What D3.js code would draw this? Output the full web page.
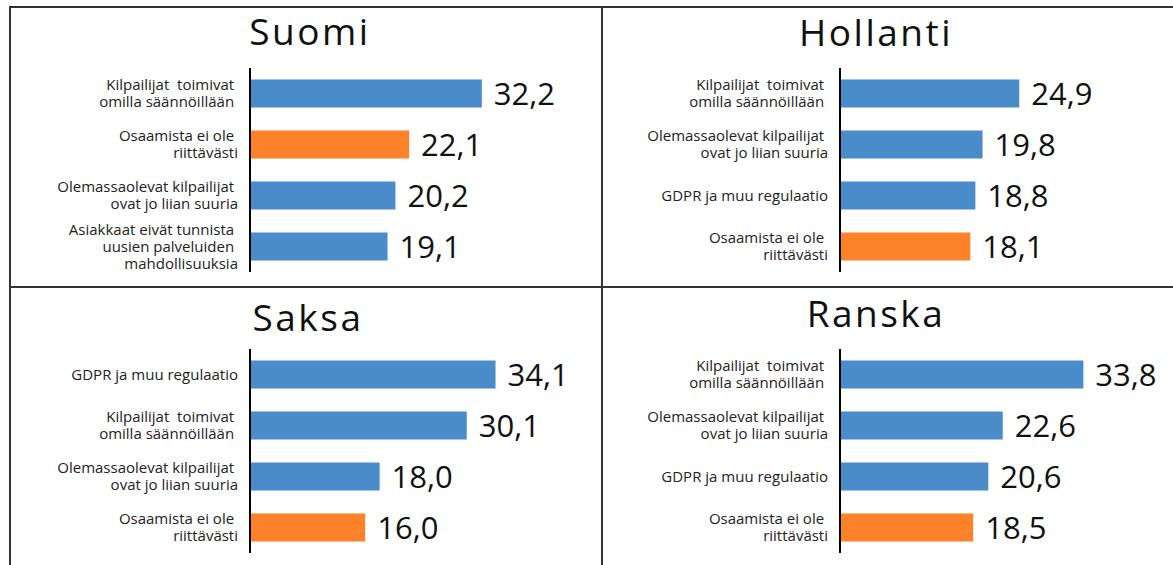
<!DOCTYPE html>
<html>
<head>
<meta charset="utf-8">
<script src="https://cdn.jsdelivr.net/npm/d3@7"></script>
<style>
  body { margin: 0; background: #fff; }
  svg text { white-space: pre; }
</style>
</head>
<body>
<div id="chart"></div>
<script>
// Data (values in %), one set of arrays per country
var suomiCategories = [
  "Kilpailijat  toimivat \nomilla säännöillään ",
  "Osaamista ei ole \nriittävästi",
  "Olemassaolevat kilpailijat \novat jo liian suuria",
  "Asiakkaat eivät tunnista \nuusien palveluiden \nmahdollisuuksia"
];
var suomiValues = [32.2, 22.1, 20.2, 19.1];

var hollantiCategories = [
  "Kilpailijat  toimivat \nomilla säännöillään ",
  "Olemassaolevat kilpailijat \novat jo liian suuria",
  "GDPR ja muu regulaatio",
  "Osaamista ei ole \nriittävästi"
];
var hollantiValues = [24.9, 19.8, 18.8, 18.1];

var saksaCategories = [
  "GDPR ja muu regulaatio",
  "Kilpailijat  toimivat \nomilla säännöillään ",
  "Olemassaolevat kilpailijat \novat jo liian suuria",
  "Osaamista ei ole \nriittävästi"
];
var saksaValues = [34.1, 30.1, 18.0, 16.0];

var ranskaCategories = [
  "Kilpailijat  toimivat \nomilla säännöillään ",
  "Olemassaolevat kilpailijat \novat jo liian suuria",
  "GDPR ja muu regulaatio",
  "Osaamista ei ole \nriittävästi"
];
var ranskaValues = [33.8, 22.6, 20.6, 18.5];

var titles = ["Suomi", "Hollanti", "Saksa", "Ranska"];
var highlightCategory = "Osaamista ei ole \nriittävästi";

var w = 1173;
var h = 565;

var svg = d3.select("#chart")
  .append("svg")
  .attr("width", w)
  .attr("height", h);

// table grid
var grid = svg.append("g")
  .attr("stroke", "#333")
  .attr("stroke-width", 2)
  .attr("fill", "none");
grid.append("rect").attr("x", 10).attr("y", 7).attr("width", 1200).attr("height", 600);
grid.append("line").attr("x1", 602).attr("x2", 602).attr("y1", 7).attr("y2", 600);
grid.append("line").attr("x1", 10).attr("x2", 1200).attr("y1", 287).attr("y2", 287);

// layout of the four panels
var panels = [
  { title: titles[0], cats: suomiCategories, vals: suomiValues, axisX: 250, top: 68, titleX: 310, titleY: 45 },
  { title: titles[1], cats: hollantiCategories, vals: hollantiValues, axisX: 840, top: 68, titleX: 876, titleY: 46 },
  { title: titles[2], cats: saksaCategories, vals: saksaValues, axisX: 250, top: 349, titleX: 308, titleY: 331 },
  { title: titles[3], cats: ranskaCategories, vals: ranskaValues, axisX: 840, top: 349, titleX: 876, titleY: 327 }
];

// same value scale in every panel
var xScale = d3.scaleLinear().domain([0, 40]).range([0, 288]);

var fmt = function (v) {
  return v.toFixed(1).replace(".", ",");
};

panels.forEach(function (p) {
  var data = p.cats.map(function (c, i) {
    return { cat: c, val: p.vals[i] };
  });

  var yScale = d3.scaleBand()
    .domain(p.cats)
    .range([p.top, p.top + 204])
    .paddingInner(0.45)
    .paddingOuter(0.225);

  var g = svg.append("g");

  // title
  g.append("text")
    .attr("x", p.titleX)
    .attr("y", p.titleY)
    .attr("text-anchor", "middle")
    .style("font-family", "'Open Sans', sans-serif")
    .style("font-size", "37px")
    .style("letter-spacing", "2.5px")
    .style("fill", "#111")
    .text(p.title);

  // bars
  g.selectAll("rect.bar")
    .data(data)
    .enter()
    .append("rect")
    .attr("class", "bar")
    .attr("x", p.axisX)
    .attr("y", function (d) { return yScale(d.cat); })
    .attr("width", function (d) { return xScale(d.val); })
    .attr("height", yScale.bandwidth())
    .style("fill", function (d) {
      return d.cat === highlightCategory ? "#fd8229" : "#4a8bca";
    });

  // value labels
  g.selectAll("text.val")
    .data(data)
    .enter()
    .append("text")
    .attr("class", "val")
    .attr("x", function (d) { return p.axisX + xScale(d.val) + 12; })
    .attr("y", function (d) { return yScale(d.cat) + yScale.bandwidth() / 2 + 11; })
    .style("font-family", "'Open Sans', sans-serif")
    .style("font-size", "31px")
    .style("fill", "#111")
    .text(function (d) { return fmt(d.val); });

  // category labels (multi-line)
  var labels = g.selectAll("text.cat")
    .data(data)
    .enter()
    .append("text")
    .attr("class", "cat")
    .attr("text-anchor", "end")
    .style("font-family", "'Open Sans', sans-serif")
    .style("font-size", "15px")
    .style("fill", "#222");

  labels.each(function (d) {
    var lines = d.cat.split("\n");
    var mid = yScale(d.cat) + yScale.bandwidth() / 2;
    var lh = 17;
    d3.select(this)
      .selectAll("tspan")
      .data(lines)
      .enter()
      .append("tspan")
      .attr("x", p.axisX - 12)
      .attr("y", function (l, i) {
        return mid + (i - (lines.length - 1) / 2) * lh + 5;
      })
      .text(function (l) { return l; });
  });

  // axis line
  g.append("line")
    .attr("x1", p.axisX)
    .attr("x2", p.axisX)
    .attr("y1", p.top)
    .attr("y2", p.top + 204)
    .attr("stroke", "#000")
    .attr("stroke-width", 2);
});
</script>
</body>
</html>
